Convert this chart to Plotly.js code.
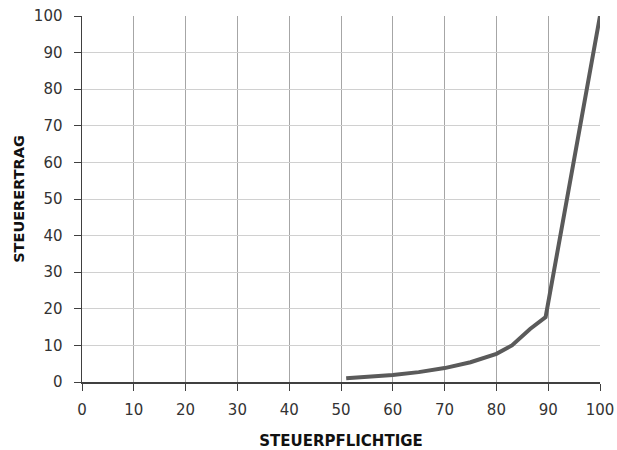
<!DOCTYPE html>
<html>
<head>
<meta charset="utf-8">
<script src="https://cdn.plot.ly/plotly-3.0.1.min.js"></script>
<style>html,body{margin:0;padding:0;background:#fff;}#chart{width:617px;height:450px;}</style>
</head>
<body>
<div id="chart"></div>
<script>
const steuerpflichtige = [51, 55, 60, 65, 70, 75, 80, 83, 86.5, 89.5, 100];
const steuerertrag = [1.0, 1.3, 1.9, 2.7, 3.8, 5.4, 7.7, 10.0, 14.5, 17.7, 100];
const xTicks = [0, 10, 20, 30, 40, 50, 60, 70, 80, 90, 100];
const yTicks = [0, 10, 20, 30, 40, 50, 60, 70, 80, 90, 100];

const font = 'DejaVu Sans, Verdana, sans-serif';
Plotly.newPlot('chart', [{
  x: steuerpflichtige,
  y: steuerertrag,
  mode: 'lines',
  line: {color: '#5a5a5a', width: 4},
  hoverinfo: 'none'
}], {
  width: 617, height: 450,
  margin: {l: 82, r: 17, t: 16, b: 68},
  paper_bgcolor: '#fff', plot_bgcolor: '#fff',
  showlegend: false,
  font: {family: font, size: 15, color: '#333'},
  xaxis: {
    range: [0, 100], tickvals: xTicks, ticktext: xTicks.map(String),
    showgrid: true, gridcolor: '#a6a6a6', gridwidth: 1,
    showline: true, linecolor: '#404040', linewidth: 1.5,
    ticks: 'outside', ticklen: 7, tickcolor: '#404040',
    ticklabelstandoff: 6,
    zeroline: false, fixedrange: true,
    tickfont: {family: font, size: 15, color: '#333'},
    title: {text: '<b>STEUERPFLICHTIGE</b>', font: {family: font, size: 15, color: '#111'}, standoff: 21}
  },
  yaxis: {
    range: [0, 100], tickvals: yTicks, ticktext: yTicks.map(String),
    showgrid: true, gridcolor: '#d0d0d0', gridwidth: 1,
    showline: true, linecolor: '#404040', linewidth: 1.5,
    ticks: 'outside', ticklen: 7, tickcolor: '#404040',
    ticklabelstandoff: 8,
    zeroline: false, fixedrange: true,
    tickfont: {family: font, size: 15, color: '#333'},
    title: {text: '<b>STEUERERTRAG</b>', font: {family: font, size: 14.5, color: '#111'}, standoff: 6}
  }
}, {staticPlot: true});
</script>
</body>
</html>
